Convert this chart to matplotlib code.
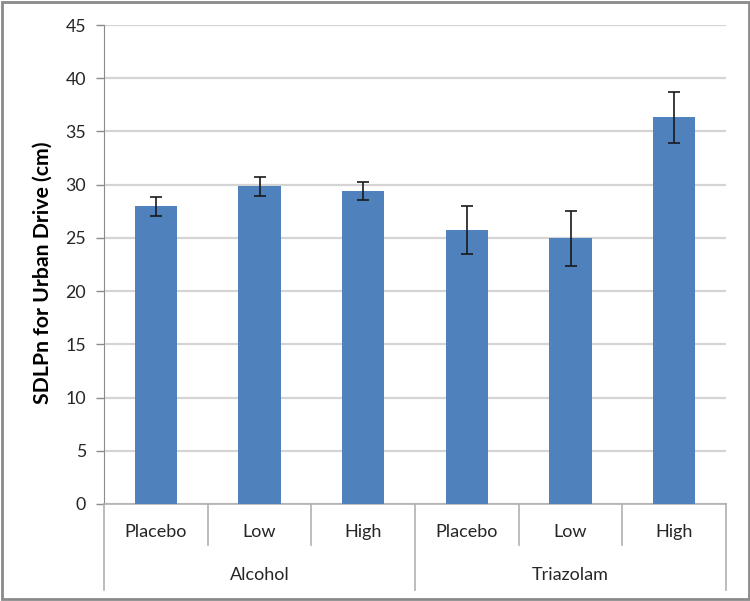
import matplotlib.pyplot as plt
import numpy as np

# values
groups = ['Alcohol', 'Triazolam']
doses = ['Placebo', 'Low', 'High', 'Placebo', 'Low', 'High']
sdlp = [27.95, 29.85, 29.4, 25.75, 24.95, 36.35]
sdlp_err = [0.92, 0.9, 0.83, 2.25, 2.6, 2.4]
y_ticks = [0, 5, 10, 15, 20, 25, 30, 35, 40, 45]

plt.rcParams['font.family'] = ['Lato', 'DejaVu Sans']

fig = plt.figure(figsize=(7.5, 6.01), dpi=100)
ax = fig.add_axes([0.1387, 0.1614, 0.8293, 0.797])

x = np.arange(len(doses))
ax.bar(x, sdlp, width=0.41, color='#4F81BD', zorder=3)
ax.errorbar(x, sdlp, yerr=sdlp_err, fmt='none', ecolor='#1a1a1a',
            elinewidth=1.2, capsize=4, capthick=1.2, zorder=4)

ax.set_xlim(-0.5, len(doses) - 0.5)
ax.set_ylim(0, 45)
ax.set_yticks(y_ticks)
ax.tick_params(axis='y', length=6, width=1, color='#8c8c8c', labelsize=12.8,
               labelcolor='#262626', pad=7)
ax.set_xticks([])
ax.yaxis.grid(True, color='#d4d4d4', linewidth=1.6, zorder=0)

for s in ['top', 'right']:
    ax.spines[s].set_visible(False)
ax.spines['left'].set_color('#8c8c8c')
ax.spines['bottom'].set_color('#b0b0b0')
ax.spines['bottom'].set_linewidth(1.2)

ax.set_ylabel('SDLPn for Urban Drive (cm)', fontsize=15.3, fontweight='bold')
ax.yaxis.set_label_coords(-0.082, 0.482)

# two-level category axis
trans = ax.get_xaxis_transform()
n_per = len(doses) // len(groups)
for i, lab in enumerate(doses):
    ax.text(i, -0.058, lab, transform=trans, ha='center', va='center',
            fontsize=13, color='#262626')
for b in np.arange(-0.5, len(doses), 1.0):
    long_line = (b + 0.5) % n_per == 0
    ax.plot([b, b], [0, -0.18 if long_line else -0.0856], transform=trans,
            color='#b0b0b0', linewidth=1.2, clip_on=False)
for g, lab in enumerate(groups):
    ax.text(g * n_per + (n_per - 1) / 2, -0.148, lab, transform=trans,
            ha='center', va='center', fontsize=13, color='#262626')

# outer border of the chart
fig.patches.append(plt.Rectangle((0.002, 0.004), 0.996, 0.993, transform=fig.transFigure,
                                 fill=False, edgecolor='#8a8a8a', linewidth=2))

fig.savefig('out.png', dpi=100)
